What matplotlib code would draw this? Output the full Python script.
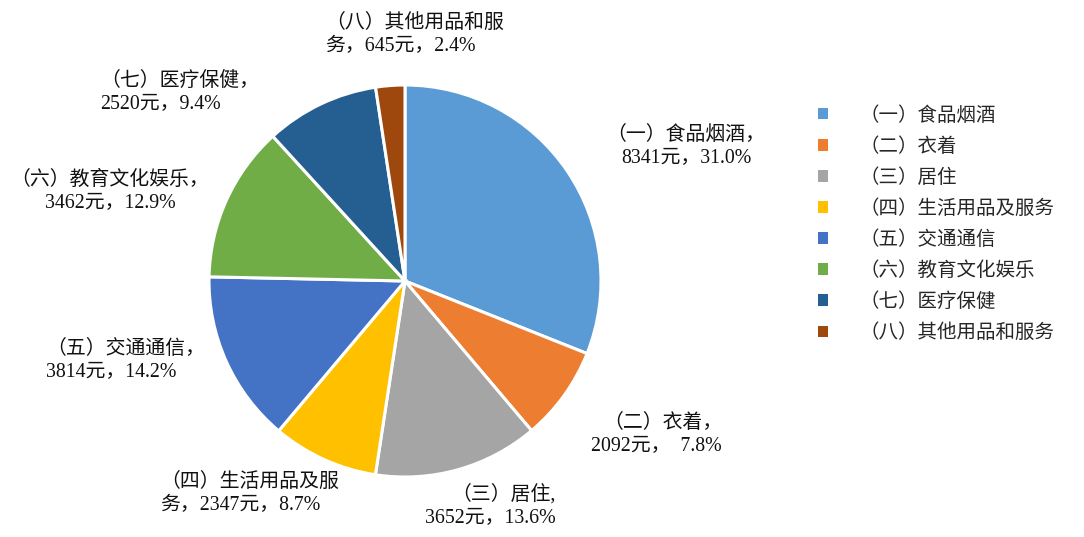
import matplotlib
matplotlib.use('Agg')
import matplotlib.pyplot as plt
from matplotlib.patches import Patch

# Per-capita consumption breakdown (yuan)
categories = ['（一）食品烟酒', '（二）衣着', '（三）居住', '（四）生活用品及服务',
              '（五）交通通信', '（六）教育文化娱乐', '（七）医疗保健', '（八）其他用品和服务']
values = [8341, 2092, 3652, 2347, 3814, 3462, 2520, 645]
pct_labels = ['31.0%', '7.8%', '13.6%', '8.7%', '14.2%', '12.9%', '9.4%', '2.4%']
label_texts = [
    '（一）食品烟酒，\n8341元，31.0%',
    '（二）衣着，\n2092元，  7.8%',
    '（三）居住,\n3652元，13.6%',
    '（四）生活用品及服\n务，2347元，8.7%',
    '（五）交通通信，\n3814元，14.2%',
    '（六）教育文化娱乐，\n3462元，12.9%',
    '（七）医疗保健，\n2520元，9.4%',
    '（八）其他用品和服\n务，645元，2.4%',
]
colors = ['#5B9BD5', '#ED7D31', '#A5A5A5', '#FFC000',
          '#4472C4', '#70AD47', '#255E91', '#9E480E']

plt.rcParams['font.family'] = ['Liberation Serif', 'Noto Sans CJK SC', 'DejaVu Sans']

W, H = 1084, 537
fig = plt.figure(figsize=(W / 100, H / 100), dpi=100)
ax = fig.add_axes([0, 0, 1, 1])

wedges, _ = ax.pie(values, colors=colors, startangle=90, counterclock=False,
                   center=(405, H - 281), radius=196, frame=True,
                   wedgeprops=dict(edgecolor='white', linewidth=2.2))
ax.set_xlim(0, W)
ax.set_ylim(0, H)
ax.set_aspect('equal')
ax.axis('off')

# label placement (x, y from top, alignment)
label_pos = [
    (686, 147, 'center'),
    (722, 435, 'right'),
    (556, 506, 'right'),
    (160, 494, 'left'),
    (46, 361, 'left'),
    (110, 192, 'center'),
    (100, 93, 'left'),
    (325, 35, 'left'),
]
for txt, (x, y, ha) in zip(label_texts, label_pos):
    ax.text(x, H - y, txt, ha=ha, va='center', multialignment=ha,
            fontsize=14.3, color='#111111', linespacing=1.3)

handles = [Patch(facecolor=c, edgecolor='none') for c in colors]
leg = fig.legend(handles, categories, loc='upper left',
                 bbox_to_anchor=(800 / W, 1 - 87 / H), frameon=False,
                 prop={'family': ['Noto Sans CJK SC'], 'size': 14},
                 handlelength=0.55, handleheight=0.55, handletextpad=1.6,
                 labelspacing=0.52, labelcolor='#262626')

fig.savefig('out.png', dpi=100)
